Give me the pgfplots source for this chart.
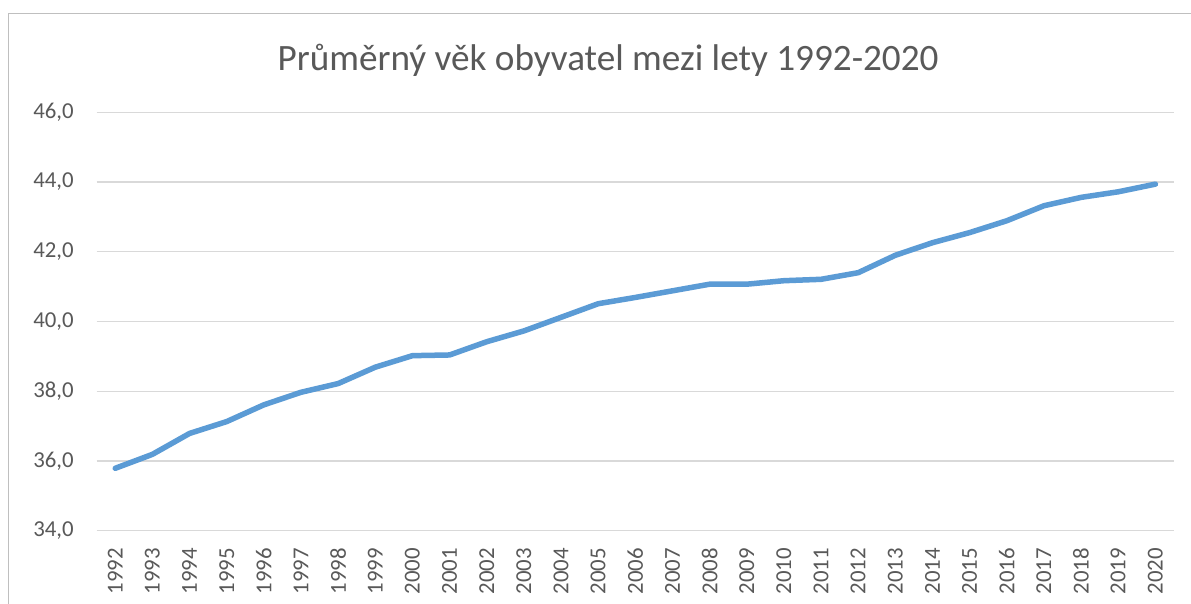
\documentclass[border=0pt]{standalone}
\usepackage{pgfplots}
\pgfplotsset{compat=1.18}
\usepackage{fontspec}
\setmainfont{Carlito}
\definecolor{txtgray}{HTML}{595959}
\definecolor{gridgray}{HTML}{D9D9D9}
\definecolor{bordergray}{HTML}{BFBFBF}
\definecolor{linecol}{HTML}{5B9BD5}
\begin{document}
\begin{tikzpicture}
\path[use as bounding box] (0,0) rectangle (595.5bp,302bp);
\fill[white] (0,0) rectangle (595.5bp,302bp);
\draw[bordergray, line width=0.7bp] (4.25bp,-5bp) -- (4.25bp,295.25bp) -- (605bp,295.25bp);
\begin{axis}[
  scale only axis,
  width=538.65bp, height=209.2bp,
  anchor=south west, at={(48.35bp,36.65bp)},
  xmin=1991.5, xmax=2020.5,
  ymin=34, ymax=46,
  xtick={1992,...,2020},
  ytick={34,36,...,46},
  axis line style={draw=none},
  major tick length=0pt,
  ymajorgrids,
  grid style={gridgray, line width=0.65bp},
  /pgf/number format/assume math mode=true,
  ticklabel style={font=\fontsize{11.4bp}{13bp}\selectfont, text=txtgray, inner sep=0pt},
  yticklabel style={/pgf/number format/.cd, fixed, fixed zerofill, precision=1, use comma},
  xticklabel style={rotate=90, anchor=east, /pgf/number format/.cd, 1000 sep={}},
  yticklabel shift=11.3bp,
  xticklabel shift=8.5bp,
  clip=false,
]
\addplot[linecol, line width=2.75bp, line join=round, line cap=round] coordinates {
(1992,35.79) (1993,36.19) (1994,36.79) (1995,37.13) (1996,37.61) (1997,37.97)
(1998,38.22) (1999,38.69) (2000,39.02) (2001,39.04) (2002,39.42) (2003,39.73)
(2004,40.12) (2005,40.51) (2006,40.69) (2007,40.88) (2008,41.07) (2009,41.07)
(2010,41.17) (2011,41.21) (2012,41.40) (2013,41.90) (2014,42.26) (2015,42.55)
(2016,42.89) (2017,43.32) (2018,43.56) (2019,43.72) (2020,43.94)
};
\end{axis}
\node[anchor=base, inner sep=0pt, text=txtgray, font=\fontsize{18.6bp}{22bp}\selectfont] at (304bp,266.65bp) {Průměrný věk obyvatel mezi lety 1992-2020};
\end{tikzpicture}
\end{document}
